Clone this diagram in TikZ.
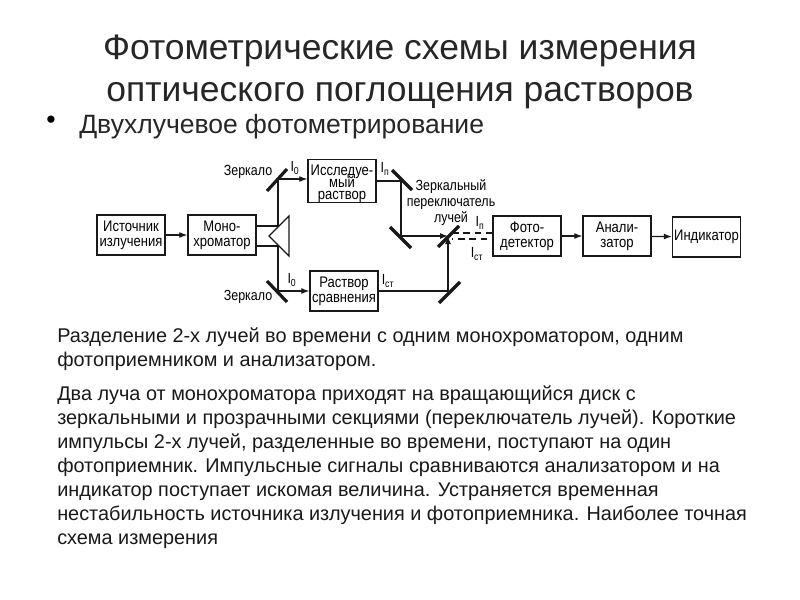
\documentclass[tikz,border=0pt]{standalone}
\usepackage{fontspec}
\setmainfont{Liberation Sans}
\newfontfamily\narrowfont[FakeStretch=0.85]{Liberation Sans}
\usetikzlibrary{positioning,arrows.meta}
\tikzset{
	block/.style={draw=black!90, line width=1pt, minimum width=51pt, minimum height=30pt, inner sep=0pt, align=center, font=\narrowfont\fontsize{11.5}{11.5}\selectfont\lineskiplimit-6pt},
	mirror/.style={line width=2.4pt, draw=black!90},
	beam/.style={line width=0.9pt, draw=black!90},
	ray/.style={beam, -{Latex[length=6pt,width=4.5pt]}},
	lbl/.style={font=\narrowfont\fontsize{11}{12}\selectfont, inner sep=0pt, align=center},
	body/.style={anchor=north west, align=left, inner sep=0pt, text=black!90, font=\fontsize{14.9}{18}\selectfont},
}
\begin{document}
\begin{tikzpicture}[x=0.75pt,y=-0.75pt]
	\useasboundingbox (0,0) rectangle (800,600);
	% title
	\node[font=\fontsize{26.6}{31}\selectfont, align=center, text=black!85] (title) at (400,72) {Фотометрические схемы измерения\\оптического поглощения растворов};
	\node[font=\fontsize{20}{20}\selectfont, inner sep=0pt] (bullet) at (51,122) {•};
	\node[font=\fontsize{19.9}{22}\selectfont, anchor=west, inner sep=0pt, text=black!85] (subtitle) at (79,127) {Двухлучевое фотометрирование};
	% blocks
	\node[block] (source) at (131,235) {Источник\\излучения};
	\node[block] (mono) at (222,235) {Моно-\\хроматор};
	\node[block, font=\narrowfont\fontsize{11.5}{9}\selectfont\lineskiplimit-6pt] (sample) at (342,181) {\rule{0pt}{12pt}Исследуе-\\мый\\раствор};
	\node[block] (ref) at (344,291) {Раствор\\сравнения};
	\node[block] (det) at (527,236) {Фото-\\детектор};
	\node[block] (anal) at (617,236) {Анали-\\затор};
	\node[block] (ind) at (706.5,237) {Индикатор};
	% beam points
	\coordinate (m1) at (278,179);
	\coordinate (m2) at (278,291);
	\coordinate (m3) at (401,181);
	\coordinate (m4) at (401,236);
	\coordinate (sw) at (448,236);
	\coordinate (m5) at (448,291);
	\coordinate (pt) at (278,226);
	\coordinate (pb) at (278,246);
	\coordinate (d1) at (452,233);
	\coordinate (d2) at (452,239);
	% prism
	\draw[beam, line width=1pt] (269,236) -- (289,216) -- (289,256) -- cycle;
	\draw[beam] (mono.east |- pt) -- (pt);
	\draw[beam] (mono.east |- pb) -- (pb);
	% mirrors
	\draw[mirror] (267,191) -- (287,169);
	\draw[mirror] (267,281) -- (287,302);
	\draw[mirror] (392,170) -- (412,190);
	\draw[mirror] (390,227) -- (411,248);
	\draw[mirror] (438,247) -- (459,226);
	\draw[mirror] (439,303) -- (460,282);
	% beams
	\draw[ray] (source) -- (mono);
	\draw[beam] (m1) -- (pt);
	\draw[beam] (pb) -- (m2);
	\draw[ray] (m1) -- (m1 -| sample.west);
	\draw[ray] (m2) -- (ref);
	\draw[beam] (sample.east |- m3) -- (m3) -- (m4);
	\draw[ray] (m4) -- (sw);
	\draw[beam] (ref) -- (m5);
	\draw[ray] (m5) -- (sw);
	\draw[beam, line width=1pt, dash pattern=on 5pt off 3.5pt] (d1) -- (d1 -| det.west);
	\draw[beam, line width=1pt, dash pattern=on 5pt off 3.5pt, dash phase=4pt] (d2) -- (d2 -| det.west);
	\draw[ray] (det) -- (anal);
	\draw[ray] (anal) -- (ind);
	% labels
	\node[lbl] (l1) at (248,172) {Зеркало};
	\node[lbl] (l2) at (248,297) {Зеркало};
	\node[lbl] (l3) at (295,168) {I\textsubscript{0}};
	\node[lbl] (l4) at (292,280) {I\textsubscript{0}};
	\node[lbl] (l5) at (385,169) {I\textsubscript{п}};
	\node[lbl] (l6) at (388,281) {I\textsubscript{ст}};
	\node[lbl] (l7) at (451,203) {Зеркальный\\переключатель\\лучей};
	\node[lbl] (l8) at (480,223) {I\textsubscript{п}};
	\node[lbl] (l9) at (477,254) {I\textsubscript{ст}};
	% text
	\node[body] (para1) at (57,327) {Разделение 2-х лучей во времени с одним монохроматором, одним\\фотоприемником и анализатором.};
	\node[body] (para2) at (57,385) {Два луча от монохроматора приходят на вращающийся диск с\\зеркальными и прозрачными секциями (переключатель лучей). Короткие\\импульсы 2-х лучей, разделенные во времени, поступают на один\\фотоприемник. Импульсные сигналы сравниваются анализатором и на\\индикатор поступает искомая величина. Устраняется временная\\нестабильность источника излучения и фотоприемника. Наиболее точная\\схема измерения};
\end{tikzpicture}
\end{document}
